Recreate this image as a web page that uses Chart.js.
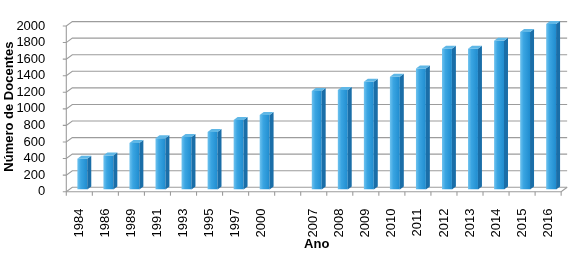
<!DOCTYPE html>
<html>
<head>
<meta charset="utf-8">
<script src="https://cdn.jsdelivr.net/npm/chart.js@4"></script>
<style>
  html, body { margin: 0; padding: 0; background: #fff; }
  #wrap { width: 578px; height: 255px; }
</style>
</head>
<body>
<div id="wrap"><canvas id="docentes" width="578" height="255"></canvas></div>
<script>
const years = ['1984', '1986', '1989', '1991', '1993', '1995', '1997', '2000', '',
  '2007', '2008', '2009', '2010', '2011', '2012', '2013', '2014', '2015', '2016'];
const docentes = [370, 410, 560, 620, 635, 695, 840, 900, null,
  1190, 1200, 1300, 1360, 1460, 1700, 1700, 1795, 1900, 1998];
const yMin = 0;
const yMax = 2000;
const yStep = 200;

// half of the 3d floor depth (front / back planes vs the bar plane)
const half = { dx: 3, dy: 2.2 };
// bar depth
const bar3d = { dx: 4, dy: 3 };
const gridColor = '#9c9c9c';

const wallPlugin = {
  id: 'wall',
  beforeDatasetsDraw(chart) {
    const { ctx, chartArea } = chart;
    const yScale = chart.scales.y;
    const fl = chartArea.left - half.dx;
    const fr = chartArea.right - half.dx;
    const bl = chartArea.left + half.dx;
    const br = chartArea.right + half.dx;
    ctx.save();
    ctx.strokeStyle = gridColor;
    ctx.lineWidth = 1.1;
    yScale.ticks.forEach((t) => {
      const py = yScale.getPixelForValue(t.value);
      ctx.beginPath();
      ctx.moveTo(fl - 3.5, py + half.dy);
      ctx.lineTo(fl, py + half.dy);
      ctx.lineTo(bl, py - half.dy);
      ctx.lineTo(br, py - half.dy);
      ctx.stroke();
    });
    // front axis line
    ctx.beginPath();
    ctx.moveTo(fl, yScale.getPixelForValue(yMax) + half.dy);
    ctx.lineTo(fl, yScale.getPixelForValue(yMin) + half.dy);
    ctx.stroke();
    // floor front edge and right slant
    const y0 = yScale.getPixelForValue(yMin);
    ctx.beginPath();
    ctx.moveTo(fl, y0 + half.dy);
    ctx.lineTo(fr, y0 + half.dy);
    ctx.lineTo(br, y0 - half.dy);
    ctx.stroke();
    // category tick marks
    const cw = (chartArea.right - chartArea.left) / years.length;
    for (let i = 0; i <= years.length; i++) {
      const px = fl + i * cw;
      ctx.beginPath();
      ctx.moveTo(px, y0 + half.dy);
      ctx.lineTo(px, y0 + half.dy + 4);
      ctx.stroke();
    }
    ctx.restore();
  },
  afterDatasetsDraw(chart) {
    const { ctx } = chart;
    const meta = chart.getDatasetMeta(0);
    ctx.save();
    meta.data.forEach((el, i) => {
      if (docentes[i] == null) return;
      const { x, y, base, width } = el.getProps(['x', 'y', 'base', 'width'], true);
      const l = x - width / 2;
      const r = x + width / 2;
      // side face
      ctx.fillStyle = '#1a6ea8';
      ctx.beginPath();
      ctx.moveTo(r, y);
      ctx.lineTo(r + bar3d.dx, y - bar3d.dy);
      ctx.lineTo(r + bar3d.dx, base - bar3d.dy);
      ctx.lineTo(r, base);
      ctx.closePath();
      ctx.fill();
      // top face
      ctx.fillStyle = '#5fb7e6';
      ctx.beginPath();
      ctx.moveTo(l, y);
      ctx.lineTo(l + bar3d.dx, y - bar3d.dy);
      ctx.lineTo(r + bar3d.dx, y - bar3d.dy);
      ctx.lineTo(r, y);
      ctx.closePath();
      ctx.fill();
    });
    ctx.restore();
  }
};

function barFill(context) {
  const chart = context.chart;
  const xScale = chart.scales.x;
  if (!chart.chartArea || !xScale) return '#2f9bdb';
  const cx = xScale.getPixelForValue(context.dataIndex);
  const w = 10;
  const g = chart.ctx.createLinearGradient(cx - w / 2, 0, cx + w / 2, 0);
  g.addColorStop(0, '#70c3ef');
  g.addColorStop(0.35, '#3aa5e2');
  g.addColorStop(1, '#1f8ccf');
  return g;
}

const ctx = document.getElementById('docentes').getContext('2d');
new Chart(ctx, {
  type: 'bar',
  data: {
    labels: years,
    datasets: [{
      label: 'Número de Docentes',
      data: docentes,
      backgroundColor: barFill,
      borderWidth: 0,
      barPercentage: 0.38,
      categoryPercentage: 1
    }]
  },
  options: {
    responsive: false,
    animation: false,
    layout: { padding: { top: 10.8, right: 10.3, bottom: 0, left: 0 } },
    plugins: {
      legend: { display: false },
      tooltip: { enabled: false }
    },
    scales: {
      x: {
        grid: { display: false },
        border: { display: false },
        afterFit: (scale) => { scale.height = 65.5; },
        ticks: {
          autoSkip: false,
          minRotation: 90,
          maxRotation: 90,
          padding: 11,
          labelOffset: -3,
          color: '#000',
          font: { family: 'Liberation Sans', size: 13 }
        },
        title: {
          display: true,
          text: 'Ano',
          color: '#000',
          padding: { top: 0, bottom: 3 },
          font: { family: 'Liberation Sans', size: 13, weight: 'bold' }
        }
      },
      y: {
        min: yMin,
        max: yMax,
        grid: { display: false },
        border: { display: false },
        afterFit: (scale) => { scale.width = 69.3; },
        ticks: {
          stepSize: yStep,
          autoSkip: false,
          padding: 16,
          labelOffset: 2.2,
          color: '#000',
          font: { family: 'Liberation Sans', size: 13 },
          callback: (v) => String(v)
        },
        title: {
          display: true,
          text: 'Número de Docentes',
          color: '#000',
          padding: { top: 2, bottom: 0 },
          font: { family: 'Liberation Sans', size: 13, weight: 'bold' }
        }
      }
    }
  },
  plugins: [wallPlugin]
});
</script>
</body>
</html>
